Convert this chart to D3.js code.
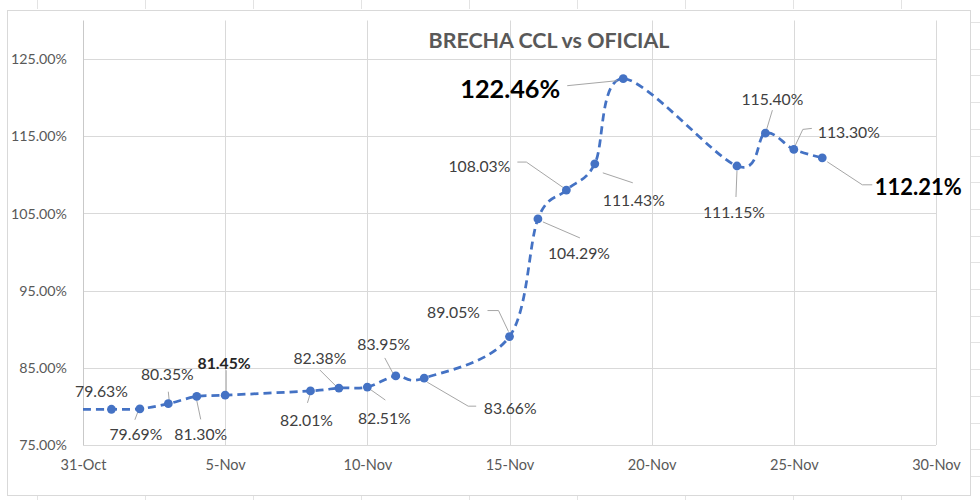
<!DOCTYPE html>
<html><head><meta charset="utf-8">
<script src="https://cdn.jsdelivr.net/npm/d3@7"></script>
<style>body{margin:0;background:#fff}svg{display:block}</style>
</head><body>
<svg id="chart" width="980" height="500"></svg>
<script>
// ---- data ----
const title = "BRECHA CCL vs OFICIAL";
const pointDates = ["2022-11-01","2022-11-02","2022-11-03","2022-11-04","2022-11-05",
  "2022-11-08","2022-11-09","2022-11-10","2022-11-11","2022-11-12",
  "2022-11-15","2022-11-16","2022-11-17","2022-11-18","2022-11-19",
  "2022-11-23","2022-11-24","2022-11-25","2022-11-26"];
const pointValues = [79.63,79.69,80.35,81.30,81.45,82.01,82.38,82.51,83.95,83.66,
  89.05,104.29,108.03,111.43,122.46,111.15,115.40,113.30,112.21];
const leadDate = "2022-10-31";   // series continues from the left edge
const leadValue = 79.60;
const xTickDates = ["2022-10-31","2022-11-05","2022-11-10","2022-11-15","2022-11-20","2022-11-25","2022-11-30"];
const yTicks = [75,85,95,105,115,125];
const yDomain = [75,130];
const emphasised = ["2022-11-19","2022-11-26"];

// ---- label layout (offsets from each marker) ----
const labelLayout = [
  [-10,-19,[]],
  [-4,25,[[-2,3],[-5,11]]],
  [-1,-30,[[0,-12],[1,-2]]],
  [4,37,[[0,4],[4,23]]],
  [-1,-33,[[1,-25],[1,-3]]],
  [-4,29,[[0,2],[-3,12]]],
  [-19,-31,[[-19,-18],[-2,-1]]],
  [17,30,[[1,1],[18,13]]],
  [-12,-32,[[-11,-18],[-3,-3]]],
  [86,29,[[3,4],[44,28],[52,28]]],
  [-56,-25,[[-22,-26],[-11,-26],[-1,-5]]],
  [41,34,[[5,3],[42,19]]],
  [-87,-25,[[-49,-28],[-40,-28],[-1,-1]]],
  [39,36,[[8,9],[38,19]]],
  [-113,9,[[-56,7],[-6,2]]],
  [-3,46,[[0,5],[-1,31]]],
  [7,-35,[[7,-23],[1,-3]]],
  [55,-18,[[1,-3],[9,-20],[18,-21]]],
  [96,29,[[5,4],[40,27],[50,27]]]
];

const parse = d3.timeParse("%Y-%m-%d");
const svg = d3.select("#chart");
const FONT = "Lato, 'Open Sans', sans-serif";

// spreadsheet cell lines around the chart
const cells = svg.append("g").attr("stroke","#e3e3e3").attr("stroke-width",1);
d3.range(37, 980, 108).forEach(x=>{
  cells.append("line").attr("x1",x+0.5).attr("x2",x+0.5).attr("y1",496).attr("y2",500);
  cells.append("line").attr("x1",x+0.5).attr("x2",x+0.5).attr("y1",0).attr("y2",9);
});
d3.range(22, 500, 26.7).forEach(y=>{
  cells.append("line").attr("x1",971).attr("x2",980).attr("y1",Math.round(y)+0.5).attr("y2",Math.round(y)+0.5);
});

// chart area
svg.append("rect").attr("x",7.5).attr("y",10.5).attr("width",963).attr("height",485)
  .attr("fill","#fff").attr("stroke","#d9d9d9");

const x = d3.scaleTime().domain([parse(xTickDates[0]), parse(xTickDates[xTickDates.length-1])]).range([83,936]);
const y = d3.scaleLinear().domain(yDomain).range([445,20.5]);

function fitSize(sample, target, weight){
  const t = svg.append("text").attr("font-family",FONT).attr("font-size",100).attr("font-weight",weight||"normal").text(sample);
  const w = t.node().getComputedTextLength(); t.remove();
  return 100*target/w;
}

// gridlines
const grid = svg.append("g");
grid.selectAll(".hg").data(yTicks).join("line")
  .attr("x1",83).attr("x2",936).attr("y1",d=>Math.round(y(d))+0.5).attr("y2",d=>Math.round(y(d))+0.5)
  .attr("stroke","#d9d9d9");
grid.selectAll(".vg").data(xTickDates.slice(1)).join("line")
  .attr("x1",d=>Math.round(x(parse(d)))+0.5).attr("x2",d=>Math.round(x(parse(d)))+0.5)
  .attr("y1",20.5).attr("y2",445).attr("stroke","#d9d9d9");
svg.append("line").attr("x1",83.5).attr("x2",83.5).attr("y1",20.5).attr("y2",445.5).attr("stroke","#c9c9c9");
svg.append("line").attr("x1",83).attr("x2",936).attr("y1",445.5).attr("y2",445.5).attr("stroke","#d9d9d9");

// y axis labels
const yFs = fitSize("125.00%",56);
const yAxis = d3.axisLeft(y).tickValues(yTicks).tickFormat(d=>d3.format(".2f")(d)+"%").tickSize(0).tickPadding(16);
const ga = svg.append("g").attr("transform","translate(83,0)").call(yAxis);
ga.select(".domain").remove();
ga.selectAll("text").attr("font-family",FONT).attr("font-size",yFs).attr("fill","#595959");

// x axis labels
const xFs = fitSize("31-Oct",46);
const xAxis = d3.axisBottom(x).tickValues(xTickDates.map(parse)).tickFormat(d3.timeFormat("%-d-%b")).tickSize(0).tickPadding(15);
const gx = svg.append("g").attr("transform","translate(0,445)").call(xAxis);
gx.select(".domain").remove();
gx.selectAll("text").attr("font-family",FONT).attr("font-size",xFs).attr("fill","#595959");

// title
const tFs = fitSize(title,241,"bold");
svg.append("text").attr("x",549).attr("y",40).attr("text-anchor","middle").attr("dominant-baseline","central")
  .attr("font-family",FONT).attr("font-weight","bold").attr("font-size",tFs).attr("fill","#595959").text(title);

// line
const pts = pointDates.map((d,i)=>({date:parse(d), value:pointValues[i], key:d}));
const linePts = [{date:parse(leadDate), value:leadValue}].concat(pts);
const line = d3.line().x(d=>x(d.date)).y(d=>y(d.value)).curve(d3.curveCardinal.tension(0));
svg.append("path").datum(linePts).attr("d",line).attr("fill","none")
  .attr("stroke","#4472C4").attr("stroke-width",2.75).attr("stroke-dasharray","8,5");

// leader lines
const lFs = fitSize("108.03%",62);
const bigFs1 = fitSize("122.46%",100,"bold");
const bigFs2 = fitSize("112.21%",87,"bold");
pts.forEach((p,i)=>{
  const lead = labelLayout[i][2];
  const cx = x(p.date), cy = y(p.value);
  if (lead.length){
    svg.append("polyline").attr("points",lead.map(q=>[cx+q[0],cy+q[1]].join(",")).join(" "))
      .attr("fill","none").attr("stroke","#a6a6a6").attr("stroke-width",1);
  }
});
// markers
svg.selectAll(".m").data(pts).join("circle")
  .attr("cx",d=>x(d.date)).attr("cy",d=>y(d.value)).attr("r",4.4).attr("fill","#4472C4");
// labels
pts.forEach((p,i)=>{
  const [dx,dy] = labelLayout[i];
  const cx = x(p.date), cy = y(p.value);
  const big = emphasised.indexOf(p.key);
  const t = svg.append("text").attr("x",cx+dx).attr("y",cy+dy).attr("text-anchor","middle")
    .attr("dominant-baseline","central").attr("font-family",FONT)
    .text(d3.format(".2f")(p.value)+"%");
  if (big===0) t.attr("font-size",bigFs1).attr("font-weight","bold").attr("fill","#000");
  else if (big===1) t.attr("font-size",bigFs2).attr("font-weight","bold").attr("fill","#000");
  else if (p.key==="2022-11-05") t.attr("font-size",lFs).attr("font-weight","bold").attr("fill","#262626");
  else t.attr("font-size",lFs).attr("fill","#404040");
});
</script>
</body></html>
